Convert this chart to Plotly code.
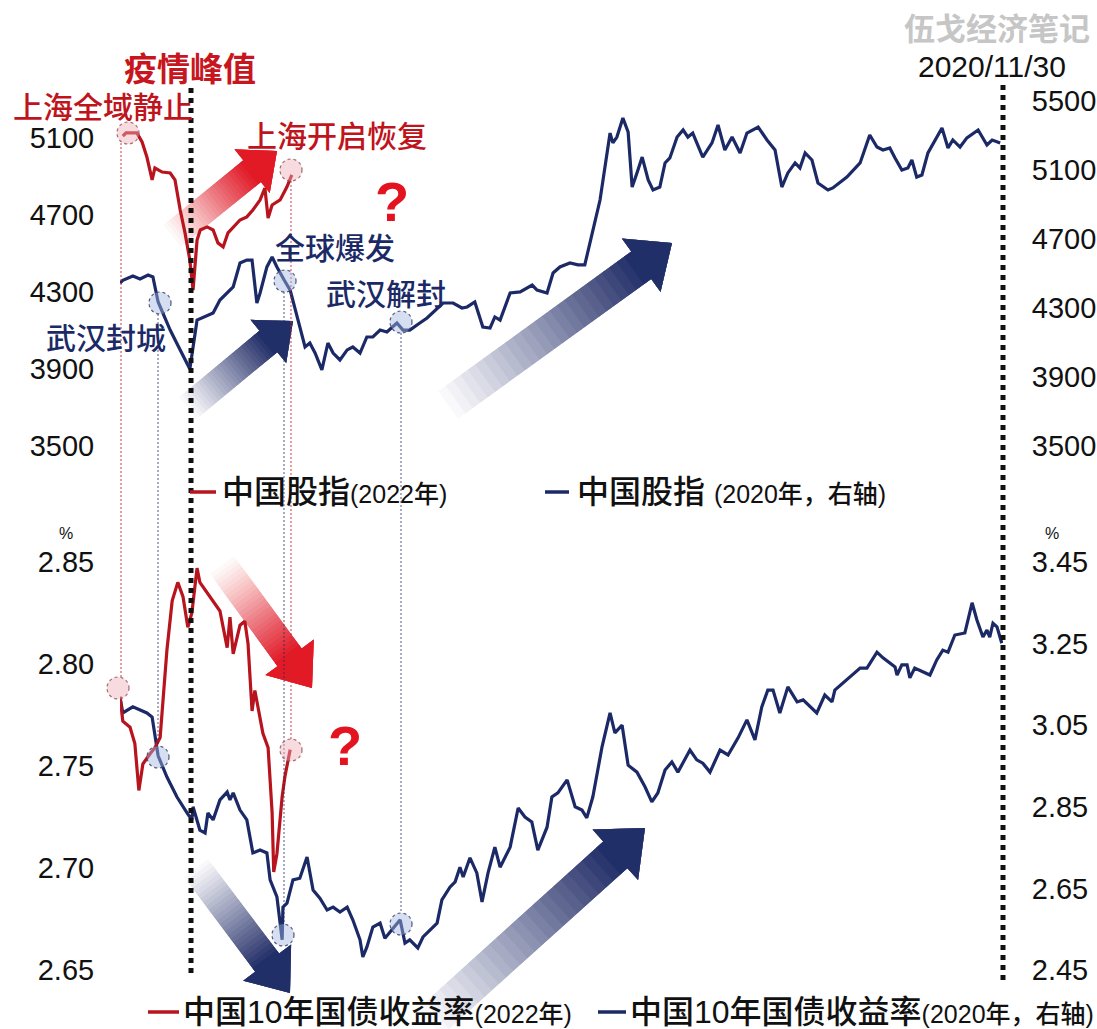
import math
import plotly.graph_objects as go

W, H = 1097, 1029

# ---------------- data (x = trading-day index, shared time axis) ----------------
stock2020_day = [0, 0.7, 3.2, 5, 7, 8.2, 9.5, 12.5, 15, 17.4, 19.2, 23.2, 24.9, 28.2, 29.9, 31.6, 32.9, 34.1, 34.9, 36.6,
                 37.9, 39.1, 40.9, 42.4, 44.8, 46.1, 47.3, 48.6, 50.3, 51.8, 53.1, 54.8, 56.6, 58, 59.8, 61.5, 63, 64.8, 66.5, 69,
                 70.5, 72.2, 74.7, 76.5, 80.5, 83, 85.2, 86.5, 88.4, 90.4, 92.2, 93.4, 94.7, 97.2, 99.7, 102.7, 103.9, 106.4, 107.9, 109.6,
                 112.1, 114.1, 115.8, 119.6, 122.1, 122.8, 123.8, 125.3, 126.6, 127.6, 128.8, 130.1, 131.6, 132.8, 134.5, 135.8, 137, 138.8, 140.3, 141.5,
                 142.7, 145.2, 147.5, 149, 150.7, 152.5, 154.5, 156.2, 159, 161.2, 163.2, 164.9, 166.4, 168.2, 169.4, 170.7, 172.4, 173.9, 176.4, 177.6,
                 181.1, 184.4, 186.8, 188.6, 190.1, 191.8, 193.1, 194.8, 196.3, 197.3, 198.5, 199.8, 201.3, 203.1, 204.8, 206.3, 207.5, 209.3, 211, 213.8,
                 216, 217.3, 219.3]
stock2020_val = [4445, 4460, 4485, 4468, 4491, 4480, 4335, 4172, 4057, 3946, 4230, 4271, 4346, 4422, 4561, 4578, 4578, 4329, 4387, 4538,
                 4596, 4538, 4462, 4404, 4190, 4074, 4097, 4039, 3941, 4097, 4039, 3999, 4057, 4074, 4039, 4132, 4132, 4172, 4161, 4213,
                 4172, 4172, 4213, 4242, 4329, 4329, 4300, 4306, 4335, 4190, 4184, 4248, 4230, 4387, 4393, 4433, 4404, 4387, 4503, 4538,
                 4561, 4550, 4550, 4926, 5314, 5257, 5291, 5401, 5320, 5001, 5083, 5175, 5042, 4984, 5001, 5141, 5170, 5291, 5332, 5291,
                 5314, 5175, 5257, 5361, 5216, 5291, 5199, 5314, 5349, 5274, 5216, 5001, 5083, 5141, 5112, 5199, 5158, 5025, 4984, 4996,
                 5059, 5141, 5303, 5233, 5216, 5228, 5170, 5100, 5112, 5158, 5059, 5071, 5199, 5274, 5343, 5228, 5274, 5233, 5286, 5332,
                 5245, 5274, 5257]

stock2022_day = [0.7, 1.5, 4.2, 5.5, 6.7, 8, 8.7, 9.5, 10.5, 12.5, 13.7, 15, 16.2, 17.4, 18.2, 19.2, 20, 21.7, 23.2, 24.4,
                 25.7, 26.9, 28.2, 29.9, 31.6, 33.1, 34.9, 36.1, 36.9, 37.9, 39.9, 41.6, 42.8]
stock2022_val = [5110, 5126, 5126, 5079, 5001, 4882, 4944, 4934, 4923, 4918, 4882, 4726, 4607, 4466, 4310, 4570, 4622, 4638, 4622, 4555,
                 4534, 4607, 4638, 4674, 4690, 4726, 4778, 4840, 4684, 4752, 4778, 4846, 4908]

bond2020_day = [0, 0.7, 3.2, 5, 6.7, 8, 9.5, 11.7, 14.2, 16.7, 17.9, 18.2, 19.2, 19.9, 21.2, 21.9, 23.2, 24.9, 26.7, 27.4,
                28.2, 29.9, 31.6, 33.1, 34.9, 36.6, 37.4, 39.1, 40.4, 40.6, 41.6, 43.1, 44.8, 46.6, 48.1, 49.8, 51.6, 53.1, 54.8, 56.6,
                58, 59.8, 60.5, 61.5, 63, 64.8, 66, 67.8, 69.8, 71, 72.2, 74.2, 75.5, 79, 80.2, 82.2, 83.5, 84.7, 85.5, 87.2,
                88.9, 90.2, 91.7, 93.4, 94.7, 97.2, 99.2, 100.9, 102.6, 104.1, 106.4, 107.6, 109.1, 111.4, 113.4, 115.1, 116.3, 117.8, 120.1, 122.1,
                123.3, 125.1, 126.6, 128.8, 130.8, 132.5, 134, 135.8, 137.5, 139, 142, 143.7, 145.2, 147, 149.5, 151.5, 154, 156.2, 158.2, 159.9,
                161.4, 162.7, 164.4, 166.4, 168.7, 170.2, 173.6, 175.6, 177.4, 178.1, 181.9, 184.4, 186.1, 188.6, 190.1, 193.1, 193.6, 194.8, 196.1, 196.8,
                198, 201.8, 203.5, 205, 206.3, 208, 210.5, 212.3, 213.5, 215, 216, 216.7, 217.5, 218.5, 219.7]
bond2020_val = [3.119, 3.080, 3.095, 3.087, 3.080, 3.070, 2.975, 2.923, 2.874, 2.835, 2.818, 2.850, 2.818, 2.793, 2.786, 2.835, 2.818, 2.867, 2.886, 2.867,
                2.884, 2.842, 2.818, 2.737, 2.744, 2.737, 2.671, 2.629, 2.524, 2.604, 2.614, 2.671, 2.675, 2.727, 2.646, 2.626, 2.597, 2.604, 2.592, 2.604,
                2.573, 2.524, 2.482, 2.506, 2.555, 2.565, 2.528, 2.548, 2.573, 2.516, 2.524, 2.504, 2.531, 2.565, 2.622, 2.653, 2.666, 2.702, 2.678, 2.725,
                2.688, 2.617, 2.688, 2.751, 2.702, 2.751, 2.847, 2.825, 2.813, 2.744, 2.800, 2.874, 2.884, 2.916, 2.850, 2.842, 2.823, 2.874, 2.997, 3.080,
                3.031, 3.050, 2.952, 2.935, 2.899, 2.862, 2.884, 2.940, 2.960, 2.935, 2.989, 2.965, 2.957, 2.935, 2.989, 2.977, 3.019, 3.063, 3.014, 3.095,
                3.136, 3.136, 3.080, 3.144, 3.107, 3.112, 3.080, 3.124, 3.107, 3.136, 3.170, 3.190, 3.190, 3.229, 3.215, 3.193, 3.173, 3.198, 3.198, 3.166,
                3.190, 3.173, 3.210, 3.234, 3.229, 3.271, 3.276, 3.350, 3.308, 3.266, 3.283, 3.266, 3.300, 3.291, 3.251]

bond2022_day = [0, 0.7, 2.5, 3.7, 4.7, 5.7, 7.5, 8.7, 10, 11.7, 13, 14.4, 15.7, 16.9, 17.9, 19.2, 19.9, 22.4, 24.9, 26.7,
                27.4, 28.2, 29.9, 31.1, 31.9, 32.9, 33.6, 35.6, 36.9, 37.9, 38.3, 39.1, 40.4, 41.1, 41.9, 42.4]
bond2022_val = [2.784, 2.772, 2.769, 2.761, 2.738, 2.751, 2.756, 2.759, 2.764, 2.807, 2.831, 2.840, 2.833, 2.818, 2.825, 2.847, 2.840, 2.833, 2.826, 2.808,
                2.823, 2.805, 2.819, 2.821, 2.810, 2.777, 2.787, 2.766, 2.759, 2.727, 2.698, 2.707, 2.735, 2.745, 2.754, 2.758]

stock_left_ticks = [3500, 3900, 4300, 4700, 5100]
stock_right_ticks = [3500, 3900, 4300, 4700, 5100, 5500]
bond_left_ticks = [2.65, 2.70, 2.75, 2.80, 2.85]
bond_right_ticks = [2.45, 2.65, 2.85, 3.05, 3.25, 3.45]

# ---------------- styling ----------------
RED = "#b8141d"
NAVY = "#1b2a66"
BRIGHT_RED = "#e3141f"
FONT = "Liberation Sans, Noto Sans CJK SC, sans-serif"


def px(x):
    return x / W


def py(y):
    return 1 - y / H


fig = go.Figure()
fig.add_trace(go.Scatter(x=stock2020_day, y=stock2020_val, xaxis="x", yaxis="y", mode="lines",
                         line=dict(color=NAVY, width=3.2), showlegend=False, hoverinfo="skip"))
fig.add_trace(go.Scatter(x=stock2022_day, y=stock2022_val, xaxis="x", yaxis="y2", mode="lines",
                         line=dict(color=RED, width=3.2), showlegend=False, hoverinfo="skip"))
fig.add_trace(go.Scatter(x=bond2020_day, y=bond2020_val, xaxis="x2", yaxis="y3", mode="lines",
                         line=dict(color=NAVY, width=3.2), showlegend=False, hoverinfo="skip"))
fig.add_trace(go.Scatter(x=bond2022_day, y=bond2022_val, xaxis="x2", yaxis="y4", mode="lines",
                         line=dict(color=RED, width=3.2), showlegend=False, hoverinfo="skip"))

xdom = [120 / W, 1003 / W]
top_dom = [1 - 446 / H, 1 - 101 / H]
bot_dom = [1 - 970 / H, 1 - 562 / H]
tickfont = dict(family=FONT, size=29, color="#111111")
common_y = dict(showgrid=False, zeroline=False, showline=False, ticks="outside", automargin=False,
                tickcolor="rgba(0,0,0,0)", tickfont=tickfont, fixedrange=True)

fig.update_layout(
    width=W, height=H,
    margin=dict(l=0, r=0, t=0, b=0, pad=0),
    paper_bgcolor="white", plot_bgcolor="rgba(0,0,0,0)",
    xaxis=dict(domain=xdom, range=[0, 220], visible=False, anchor="y", automargin=False),
    xaxis2=dict(domain=xdom, range=[0, 220], visible=False, anchor="y3", automargin=False),
    yaxis=dict(domain=top_dom, anchor="x", side="right", range=[3500, 5500], tickvals=stock_right_ticks,
               ticklen=22, **common_y),
    yaxis2=dict(overlaying="y", anchor="x", side="left", range=[3500, 5292], tickvals=stock_left_ticks,
                ticklen=19, **common_y),
    yaxis3=dict(domain=bot_dom, anchor="x2", side="right", range=[2.45, 3.45], tickvals=bond_right_ticks,
                tickformat=".2f", ticklen=22, **common_y),
    yaxis4=dict(overlaying="y3", anchor="x2", side="left", range=[2.65, 2.85], tickvals=bond_left_ticks,
                tickformat=".2f", ticklen=19, **common_y),
)

shapes = []


def arrow(tail, tip, shaft, headw, headl, rgb, n=26, omax=0.97):
    x0, y0 = tail
    x1, y1 = tip
    dx, dy = x1 - x0, y1 - y0
    L = math.hypot(dx, dy)
    ux, uy = dx / L, dy / L
    nx, ny = -uy, ux
    bx, by = x1 - ux * headl, y1 - uy * headl
    sl = L - headl
    prev = 0.0
    for k in range(n):
        t = k / n
        O = omax * ((k + 1) / n) ** 1.1
        a = 1 - (1 - O) / (1 - prev)
        prev = O
        sx, sy = x0 + ux * sl * t, y0 + uy * sl * t
        pts = [(sx + nx * shaft / 2, sy + ny * shaft / 2), (bx + nx * shaft / 2, by + ny * shaft / 2),
               (bx + nx * headw / 2, by + ny * headw / 2), (x1, y1),
               (bx - nx * headw / 2, by - ny * headw / 2), (bx - nx * shaft / 2, by - ny * shaft / 2),
               (sx - nx * shaft / 2, sy - ny * shaft / 2)]
        path = "M " + " L ".join(f"{px(X):.5f},{py(Y):.5f}" for X, Y in pts) + " Z"
        shapes.append(dict(type="path", xref="paper", yref="paper", path=path, layer="below",
                           fillcolor=f"rgba({rgb[0]},{rgb[1]},{rgb[2]},{a:.4f})", line=dict(width=0)))


RED_RGB = (226, 20, 32)
NAVY_RGB = (28, 42, 102)
arrow((172, 236), (277, 151), 28, 56, 32, RED_RGB)
arrow((188, 408), (293, 321), 28, 56, 32, NAVY_RGB)
arrow((448, 405), (672, 243), 34, 66, 38, NAVY_RGB)
arrow((222, 565), (312, 688), 30, 60, 38, RED_RGB)
arrow((196, 868), (290, 993), 30, 60, 38, NAVY_RGB)
arrow((430, 1022), (645, 828), 36, 68, 40, NAVY_RGB)


def vline(x, y0, y1, color, width, dash):
    shapes.append(dict(type="line", xref="paper", yref="paper", x0=px(x), x1=px(x), y0=py(y0), y1=py(y1),
                       line=dict(color=color, width=width, dash=dash)))


# thin event guide lines
vline(121, 143, 678, "rgba(200,40,50,0.75)", 1.2, "2px,2px")
vline(291, 181, 740, "rgba(200,40,50,0.75)", 1.2, "2px,2px")
vline(158, 314, 746, "rgba(30,45,100,0.65)", 1.2, "2px,2px")
vline(284, 292, 924, "rgba(30,45,100,0.65)", 1.2, "2px,2px")
vline(401, 333, 913, "rgba(30,45,100,0.65)", 1.2, "2px,2px")

# bold dotted markers
vline(191, 88, 975, "#111111", 5, "5px,5px")
vline(1003, 85, 985, "#111111", 5, "5px,5px")


def circle(cx, cy, fill, edge, r=11):
    shapes.append(dict(type="circle", xref="paper", yref="paper", x0=px(cx - r), x1=px(cx + r),
                       y0=py(cy + r), y1=py(cy - r), fillcolor=fill, line=dict(color=edge, width=1.2, dash="dot")))


PINK = "rgba(240,175,185,0.45)"
PINK_E = "rgba(150,90,100,0.9)"
LBLUE = "rgba(165,185,225,0.45)"
LBLUE_E = "rgba(60,70,110,0.9)"
circle(128, 133, PINK, PINK_E)
circle(291, 170, PINK, PINK_E)
circle(118, 688, PINK, PINK_E)
circle(291, 750, PINK, PINK_E)
circle(160, 303, LBLUE, LBLUE_E)
circle(285, 281, LBLUE, LBLUE_E)
circle(401, 322, LBLUE, LBLUE_E)
circle(158, 757, LBLUE, LBLUE_E)
circle(283, 935, LBLUE, LBLUE_E)
circle(401, 924, LBLUE, LBLUE_E)


def hseg(x0, x1, y, color):
    shapes.append(dict(type="line", xref="paper", yref="paper", x0=px(x0), x1=px(x1), y0=py(y), y1=py(y),
                       line=dict(color=color, width=3.5)))


hseg(190, 216, 492, RED)
hseg(545, 569, 492, NAVY)
hseg(148, 179, 1012, RED)
hseg(598, 626, 1012, NAVY)

annotations = []


def text(t, x, y, size, color, xanchor="center", bold=False, weight=None, family=FONT):
    f = dict(family=family, size=size, color=color)
    if weight:
        f["weight"] = weight
    annotations.append(dict(text=f"<b>{t}</b>" if bold else t, x=px(x), y=py(y), xref="paper", yref="paper",
                            xanchor=xanchor, yanchor="middle", showarrow=False, font=f))


text("疫情峰值", 190, 70, 33, "#c8161e", bold=True)
text("上海全域静止", 103, 108, 30, "#c0141c", weight=500)
text("上海开启恢复", 337, 136, 30, "#c0141c", weight=500)
text("?", 392, 202, 56, BRIGHT_RED, bold=True)
text("全球爆发", 335, 248, 30, NAVY, weight=500)
text("武汉解封", 386, 294, 30, NAVY, weight=500)
text("武汉封城", 106, 338, 30, NAVY, weight=500)
text("?", 345, 745, 56, BRIGHT_RED, bold=True)
text("伍戈经济笔记", 997, 30, 31, "#c6c6c6", bold=True)
text("2020/11/30", 992, 67, 30, "#111111")
text("%", 66, 533, 16, "#111111")
text("%", 1052, 533, 16, "#111111")

SMALL = "<span style='font-family:\"Liberation Sans Narrow\",\"Liberation Sans\",\"Noto Sans CJK SC\";font-size:25px'>"
text(f"中国股指{SMALL}(2022年)</span>", 220, 492, 32, "#111111", xanchor="left", weight=500)
text(f"中国股指 {SMALL}(2020年，右轴)</span>", 575, 492, 32, "#111111", xanchor="left", weight=500)
text(f"中国10年国债收益率{SMALL}(2022年)</span>", 181, 1012, 32, "#111111", xanchor="left", weight=500)
text(f"中国10年国债收益率{SMALL}(2020年，右轴)</span>", 628, 1012, 32, "#111111", xanchor="left", weight=500)

fig.update_layout(shapes=shapes, annotations=annotations)
fig.write_html("out.html")
